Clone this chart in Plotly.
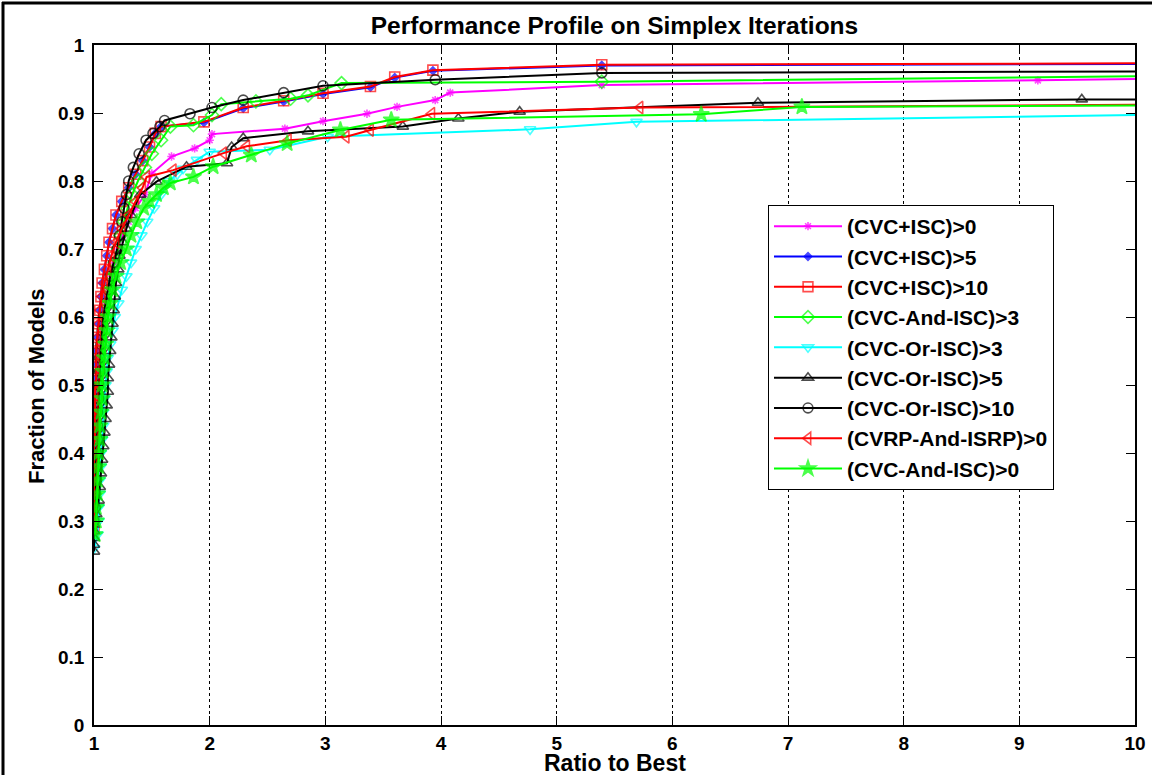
import plotly.graph_objects as go

# ---------------- data ----------------
series_names = [
    "(CVC+ISC)>0", "(CVC+ISC)>5", "(CVC+ISC)>10", "(CVC-And-ISC)>3",
    "(CVC-Or-ISC)>3", "(CVC-Or-ISC)>5", "(CVC-Or-ISC)>10",
    "(CVRP-And-ISRP)>0", "(CVC-And-ISC)>0",
]

cvc_isc_0_x = [1.00, 1.00, 1.01, 1.01, 1.02, 1.02, 1.02, 1.03, 1.03, 1.04, 1.04, 1.05, 1.06, 1.07, 1.08, 1.09, 1.11, 1.13, 1.15, 1.18,
               1.21, 1.25, 1.30, 1.36, 1.44, 1.50, 1.67, 1.87, 2.00, 2.02, 2.65, 2.98, 3.36, 3.62, 3.95, 4.08, 5.39, 9.16, 10.0]
cvc_isc_0_y = [0.30, 0.32, 0.34, 0.36, 0.38, 0.40, 0.42, 0.44, 0.46, 0.48, 0.50, 0.52, 0.54, 0.56, 0.58, 0.60, 0.62, 0.64, 0.66, 0.68,
               0.70, 0.72, 0.74, 0.76, 0.78, 0.811, 0.836, 0.848, 0.860, 0.869, 0.877, 0.888, 0.899, 0.909, 0.919, 0.930, 0.941, 0.948, 0.950]

cvc_isc_5_x = [1.00, 1.00, 1.00, 1.00, 1.00, 1.00, 1.00, 1.00, 1.01, 1.01, 1.01, 1.02, 1.02, 1.02, 1.03, 1.04, 1.05, 1.06, 1.07, 1.09,
               1.11, 1.13, 1.16, 1.19, 1.24, 1.30, 1.36, 1.42, 1.48, 1.53, 1.58, 1.95, 2.29, 2.64, 2.98, 3.39, 3.60, 3.93, 5.39, 10.0]
cvc_isc_5_y = [0.29, 0.31, 0.33, 0.35, 0.37, 0.39, 0.41, 0.43, 0.45, 0.47, 0.49, 0.51, 0.53, 0.55, 0.57, 0.59, 0.61, 0.63, 0.65, 0.67,
               0.69, 0.71, 0.73, 0.75, 0.77, 0.79, 0.81, 0.83, 0.85, 0.87, 0.88, 0.886, 0.907, 0.917, 0.928, 0.938, 0.952, 0.962, 0.970, 0.972]

cvc_isc_10_x = [1.00, 1.00, 1.00, 1.00, 1.00, 1.00, 1.00, 1.00, 1.01, 1.01, 1.01, 1.02, 1.02, 1.02, 1.03, 1.04, 1.05, 1.06, 1.07, 1.09,
                1.11, 1.13, 1.16, 1.19, 1.24, 1.30, 1.36, 1.42, 1.48, 1.53, 1.58, 1.95, 2.29, 2.64, 2.98, 3.39, 3.60, 3.93, 5.39, 10.0]
cvc_isc_10_y = [0.29, 0.31, 0.33, 0.35, 0.37, 0.39, 0.41, 0.43, 0.45, 0.47, 0.49, 0.51, 0.53, 0.55, 0.57, 0.59, 0.61, 0.63, 0.65, 0.67,
                0.69, 0.71, 0.73, 0.75, 0.77, 0.79, 0.81, 0.83, 0.85, 0.87, 0.88, 0.887, 0.908, 0.918, 0.929, 0.939, 0.953, 0.963, 0.971, 0.973]

cvc_and_isc_3_x = [1.00, 1.01, 1.01, 1.02, 1.02, 1.03, 1.03, 1.04, 1.04, 1.05, 1.05, 1.06, 1.07, 1.08, 1.09, 1.10, 1.12, 1.14, 1.16, 1.18,
                   1.21, 1.23, 1.26, 1.29, 1.33, 1.38, 1.44, 1.50, 1.58, 1.66, 1.86, 2.02, 2.10, 2.40, 2.70, 2.85, 3.14, 5.39, 10.0]
cvc_and_isc_3_y = [0.30, 0.32, 0.34, 0.36, 0.38, 0.40, 0.42, 0.44, 0.46, 0.48, 0.50, 0.52, 0.54, 0.56, 0.58, 0.60, 0.62, 0.64, 0.66, 0.68,
                   0.70, 0.72, 0.74, 0.76, 0.78, 0.80, 0.82, 0.84, 0.86, 0.880, 0.882, 0.897, 0.913, 0.917, 0.921, 0.926, 0.944, 0.946, 0.954]

cvc_or_isc_3_x = [1.00, 1.03, 1.04, 1.04, 1.05, 1.05, 1.06, 1.06, 1.07, 1.08, 1.08, 1.09, 1.10, 1.11, 1.12, 1.14, 1.16, 1.18, 1.21, 1.24,
                  1.28, 1.32, 1.36, 1.41, 1.46, 1.52, 1.58, 1.65, 1.72, 1.77, 1.89, 2.00, 2.52, 3.02, 4.77, 5.69, 10.0]
cvc_or_isc_3_y = [0.26, 0.28, 0.30, 0.32, 0.34, 0.36, 0.38, 0.40, 0.42, 0.44, 0.46, 0.48, 0.50, 0.52, 0.54, 0.56, 0.58, 0.60, 0.62, 0.64,
                  0.66, 0.68, 0.70, 0.72, 0.74, 0.76, 0.78, 0.80, 0.81, 0.818, 0.831, 0.843, 0.846, 0.865, 0.876, 0.887, 0.897]

cvc_or_isc_5_x = [1.00, 1.00, 1.00, 1.00, 1.00, 1.02, 1.04, 1.05, 1.06, 1.07, 1.08, 1.09, 1.10, 1.11, 1.12, 1.12, 1.13, 1.14, 1.15, 1.16,
                  1.17, 1.18, 1.19, 1.21, 1.22, 1.25, 1.28, 1.32, 1.40, 1.54, 1.80, 2.15, 2.19, 2.29, 2.85, 3.67, 4.15, 4.68, 6.74, 9.54, 10.0]
cvc_or_isc_5_y = [0.255, 0.265, 0.275, 0.285, 0.295, 0.31, 0.33, 0.35, 0.37, 0.39, 0.41, 0.43, 0.45, 0.47, 0.49, 0.51, 0.53, 0.55, 0.57, 0.59,
                  0.61, 0.63, 0.65, 0.67, 0.69, 0.71, 0.73, 0.75, 0.78, 0.799, 0.821, 0.826, 0.850, 0.863, 0.873, 0.880, 0.892, 0.902, 0.915, 0.920, 0.920]

cvc_or_isc_10_x = [1.00, 1.01, 1.01, 1.02, 1.02, 1.02, 1.03, 1.03, 1.03, 1.04, 1.04, 1.05, 1.05, 1.06, 1.07, 1.08, 1.10, 1.12, 1.14, 1.17,
                   1.20, 1.22, 1.24, 1.26, 1.28, 1.30, 1.34, 1.39, 1.45, 1.51, 1.57, 1.61, 1.83, 2.02, 2.29, 2.64, 2.98, 3.95, 5.39, 10.0]
cvc_or_isc_10_y = [0.30, 0.32, 0.34, 0.36, 0.38, 0.40, 0.42, 0.44, 0.46, 0.48, 0.50, 0.52, 0.54, 0.56, 0.58, 0.60, 0.62, 0.64, 0.66, 0.68,
                   0.70, 0.72, 0.74, 0.76, 0.78, 0.80, 0.82, 0.84, 0.86, 0.87, 0.88, 0.889, 0.899, 0.908, 0.919, 0.930, 0.940, 0.949, 0.959, 0.961]

cvrp_and_isrp_0_x = [1.00, 1.00, 1.00, 1.00, 1.00, 1.00, 1.00, 1.01, 1.01, 1.01, 1.01, 1.02, 1.02, 1.02, 1.03, 1.04, 1.05, 1.07, 1.09, 1.12,
                     1.15, 1.19, 1.24, 1.30, 1.36, 1.42, 1.455, 1.685, 2.12, 2.32, 2.68, 3.18, 3.39, 3.92, 5.72, 10.0]
cvrp_and_isrp_0_y = [0.29, 0.31, 0.33, 0.35, 0.37, 0.39, 0.41, 0.43, 0.45, 0.47, 0.49, 0.51, 0.53, 0.55, 0.57, 0.59, 0.61, 0.63, 0.65, 0.67,
                     0.69, 0.71, 0.73, 0.75, 0.77, 0.79, 0.806, 0.816, 0.841, 0.851, 0.860, 0.865, 0.875, 0.899, 0.908, 0.912]

cvc_and_isc_0_x = [1.01, 1.02, 1.02, 1.03, 1.03, 1.04, 1.04, 1.05, 1.05, 1.06, 1.07, 1.07, 1.08, 1.09, 1.10, 1.11, 1.12, 1.14, 1.16,
                   1.19, 1.23, 1.28, 1.32, 1.37, 1.43, 1.48, 1.54, 1.60, 1.66, 1.86, 2.03, 2.36, 2.67, 3.13, 3.57, 6.25, 7.12, 10.0]
cvc_and_isc_0_y = [0.28, 0.30, 0.32, 0.34, 0.36, 0.38, 0.40, 0.42, 0.44, 0.46, 0.48, 0.50, 0.52, 0.54, 0.56, 0.58, 0.60, 0.62, 0.64,
                   0.66, 0.68, 0.70, 0.72, 0.74, 0.76, 0.77, 0.78, 0.79, 0.797, 0.806, 0.821, 0.838, 0.855, 0.875, 0.890, 0.898, 0.909, 0.911]

x_ticks = [1, 2, 3, 4, 5, 6, 7, 8, 9, 10]
y_ticks = [0, 0.1, 0.2, 0.3, 0.4, 0.5, 0.6, 0.7, 0.8, 0.9, 1]

# ---------------- styles ----------------
all_x = [cvc_isc_0_x, cvc_isc_5_x, cvc_isc_10_x, cvc_and_isc_3_x, cvc_or_isc_3_x,
         cvc_or_isc_5_x, cvc_or_isc_10_x, cvrp_and_isrp_0_x, cvc_and_isc_0_x]
all_y = [cvc_isc_0_y, cvc_isc_5_y, cvc_isc_10_y, cvc_and_isc_3_y, cvc_or_isc_3_y,
         cvc_or_isc_5_y, cvc_or_isc_10_y, cvrp_and_isrp_0_y, cvc_and_isc_0_y]
colors = ["#ff00ff", "#0000ff", "#ff0000", "#00ff00", "#00ffff",
          "#000000", "#000000", "#ff0000", "#00ff00"]
symbols = ["asterisk-open", "diamond", "square-open", "diamond-open", "triangle-down-open",
           "triangle-up-open", "circle-open", "triangle-left-open", "star"]
msizes = [7, 6, 10, 10, 10, 10, 10, 11, 12]

fig = go.Figure()
for name, xs, ys, c, s, ms in zip(series_names, all_x, all_y, colors, symbols, msizes):
    sizes = [ms] * (len(xs) - 1) + [0]   # no marker on the line's end at x=10
    fig.add_trace(go.Scatter(
        x=xs, y=ys, name=name, mode="lines+markers", legendgroup=name,
        line=dict(color=c, width=2),
        marker=dict(symbol=s, size=sizes, color=c, line=dict(color=c, width=1.6)),
    ))

L, R, T, B = 94, 17, 45, 50
W, H = 1152, 775
pw, ph = W - L - R, H - T - B

def px_x(p):
    return (p - L) / pw

def px_y(p):
    return (H - B - p) / ph

font_fam = "Liberation Sans, Arial, sans-serif"

fig.update_layout(
    width=W, height=H,
    margin=dict(l=L, r=R, t=T, b=B, autoexpand=False),
    paper_bgcolor="white", plot_bgcolor="white",
    showlegend=True,
    title=dict(text="Performance Profile on Simplex Iterations", x=0.5, xref="paper",
               y=1 - 25 / H, yref="container", yanchor="middle", xanchor="center",
               font=dict(family=font_fam, size=24.5, color="black", weight="bold")),
    legend=dict(x=px_x(768), y=px_y(205), xanchor="left", yanchor="top",
                bgcolor="white", bordercolor="black", borderwidth=1,
                font=dict(family=font_fam, size=21, color="black", weight="bold"),
                itemwidth=68, tracegroupgap=9.5, traceorder="normal"),
    xaxis=dict(range=[1, 10], tickvals=x_ticks, ticktext=[str(v) for v in x_ticks],
               automargin=False,
               showgrid=True, gridcolor="black", griddash="dot", gridwidth=1,
               showline=True, linecolor="black", linewidth=1.5, mirror="ticks",
               ticks="inside", ticklen=9, tickcolor="black", tickwidth=1, zeroline=False,
               tickfont=dict(family=font_fam, size=19, color="black", weight="bold")),
    yaxis=dict(range=[0, 1], tickvals=y_ticks, ticktext=[("%g" % v) for v in y_ticks],
               automargin=False, showgrid=False,
               showline=True, linecolor="black", linewidth=1.5, mirror="ticks",
               ticks="inside", ticklen=9, tickcolor="black", tickwidth=1, zeroline=False,
               ticklabelstandoff=4,
               tickfont=dict(family=font_fam, size=19, color="black", weight="bold")),
    annotations=[
        dict(text="Ratio to Best", xref="paper", yref="paper", x=0.5, y=px_y(763),
             xanchor="center", yanchor="middle", showarrow=False,
             font=dict(family=font_fam, size=23, color="black", weight="bold")),
        dict(text="Fraction of Models", xref="paper", yref="paper", x=px_x(36), y=px_y(386),
             xanchor="center", yanchor="middle", showarrow=False, textangle=-90,
             font=dict(family=font_fam, size=22, color="black", weight="bold")),
    ],
    shapes=[
        dict(type="line", xref="paper", yref="paper", x0=px_x(3), x1=px_x(3), y0=px_y(H + 5), y1=px_y(2),
             line=dict(color="black", width=3)),
        dict(type="line", xref="paper", yref="paper", x0=px_x(2), x1=px_x(W + 5), y0=px_y(3), y1=px_y(3),
             line=dict(color="black", width=3)),
    ],
)

fig.write_html("out.html", config={"displayModeBar": False},
               post_script="document.body.style.margin='0';")
